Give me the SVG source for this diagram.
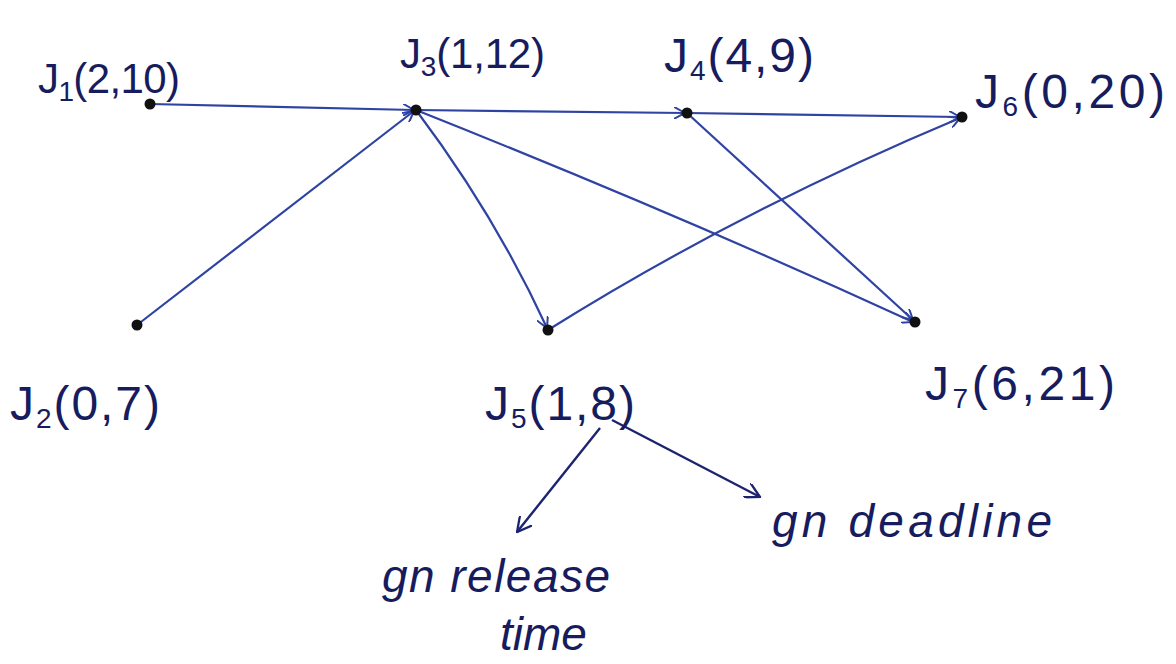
<svg xmlns="http://www.w3.org/2000/svg" width="1176" height="664" viewBox="0 0 1176 664">
<style>
.lbl{font-family:"Liberation Sans",Arial,sans-serif;font-size:42px;fill:#161c5e}
.big{font-size:48px}
.note{font-family:"Liberation Sans",Arial,sans-serif;font-style:italic;font-size:46px;fill:#161c5e}
.sub{font-size:28px}
.edge{fill:none;stroke:#2f43a3;stroke-width:2.2;marker-end:url(#ah)}
.ann{fill:none;stroke:#1c2470;stroke-width:2.4;marker-end:url(#ah2)}
.dot{fill:#111}
</style>
<defs>
<marker id="ah" viewBox="0 0 12 12" refX="11" refY="6" markerWidth="12" markerHeight="12" markerUnits="userSpaceOnUse" orient="auto">
<path d="M0,0 L11,6 L0,12" fill="none" stroke="#2f43a3" stroke-width="2"/>
</marker>
<marker id="ah2" viewBox="0 0 14 14" refX="13" refY="7" markerWidth="16" markerHeight="16" markerUnits="userSpaceOnUse" orient="auto">
<path d="M0,0 L13,7 L0,14" fill="none" stroke="#1c2470" stroke-width="2"/>
</marker>
</defs>
<rect width="1176" height="664" fill="#ffffff"/>
<g id="connectors">
<path class="edge" d="M150,104 L414,110"/>
<path class="edge" d="M137,325 L414,111"/>
<path class="edge" d="M416,110 L685,113"/>
<path class="edge" d="M687,113 L960,117"/>
<path class="edge" d="M416,110 Q495,215 547,328"/>
<path class="edge" d="M416,110 Q680,215 913,322"/>
<path class="edge" d="M687,113 L913,320"/>
<path class="edge" d="M548,330 Q740,210 960,118"/>
<path class="ann" d="M600,428 L517,532"/>
<path class="ann" d="M612,420 L760,497"/>
</g>
<g id="J1"><circle class="dot" cx="150" cy="104" r="5.5"/><text class="lbl" x="38" y="93" textLength="142" lengthAdjust="spacing">J<tspan class="sub" dy="8">1</tspan><tspan dy="-8">(2,10)</tspan></text></g>
<g id="J3"><circle class="dot" cx="416" cy="110" r="5.5"/><text class="lbl" x="400" y="68" textLength="145" lengthAdjust="spacing">J<tspan class="sub" dy="8">3</tspan><tspan dy="-8">(1,12)</tspan></text></g>
<g id="J4"><circle class="dot" cx="687" cy="113" r="5.5"/><text class="lbl big" x="664" y="72" textLength="150" lengthAdjust="spacing">J<tspan class="sub" dy="8">4</tspan><tspan dy="-8">(4,9)</tspan></text></g>
<g id="J6"><circle class="dot" cx="962" cy="117" r="5.5"/><text class="lbl big" x="975" y="108" textLength="190" lengthAdjust="spacing">J<tspan class="sub" dy="8">6</tspan><tspan dy="-8">(0,20)</tspan></text></g>
<g id="J2"><circle class="dot" cx="137" cy="325" r="5.5"/><text class="lbl big" x="10" y="420" textLength="150" lengthAdjust="spacing">J<tspan class="sub" dy="8">2</tspan><tspan dy="-8">(0,7)</tspan></text></g>
<g id="J5"><circle class="dot" cx="548" cy="330" r="5.5"/><text class="lbl big" x="485" y="420" textLength="150" lengthAdjust="spacing">J<tspan class="sub" dy="8">5</tspan><tspan dy="-8">(1,8)</tspan></text></g>
<g id="J7"><circle class="dot" cx="915" cy="322" r="5.5"/><text class="lbl big" x="925" y="400" textLength="190" lengthAdjust="spacing">J<tspan class="sub" dy="8">7</tspan><tspan dy="-8">(6,21)</tspan></text></g>
<g id="release-note"><text class="note" x="382" y="592" textLength="228" lengthAdjust="spacing">gn release</text><text class="note" x="500" y="650">time</text></g>
<g id="deadline-note"><text class="note" x="772" y="537" textLength="280" lengthAdjust="spacing">gn deadline</text></g>
</svg>
